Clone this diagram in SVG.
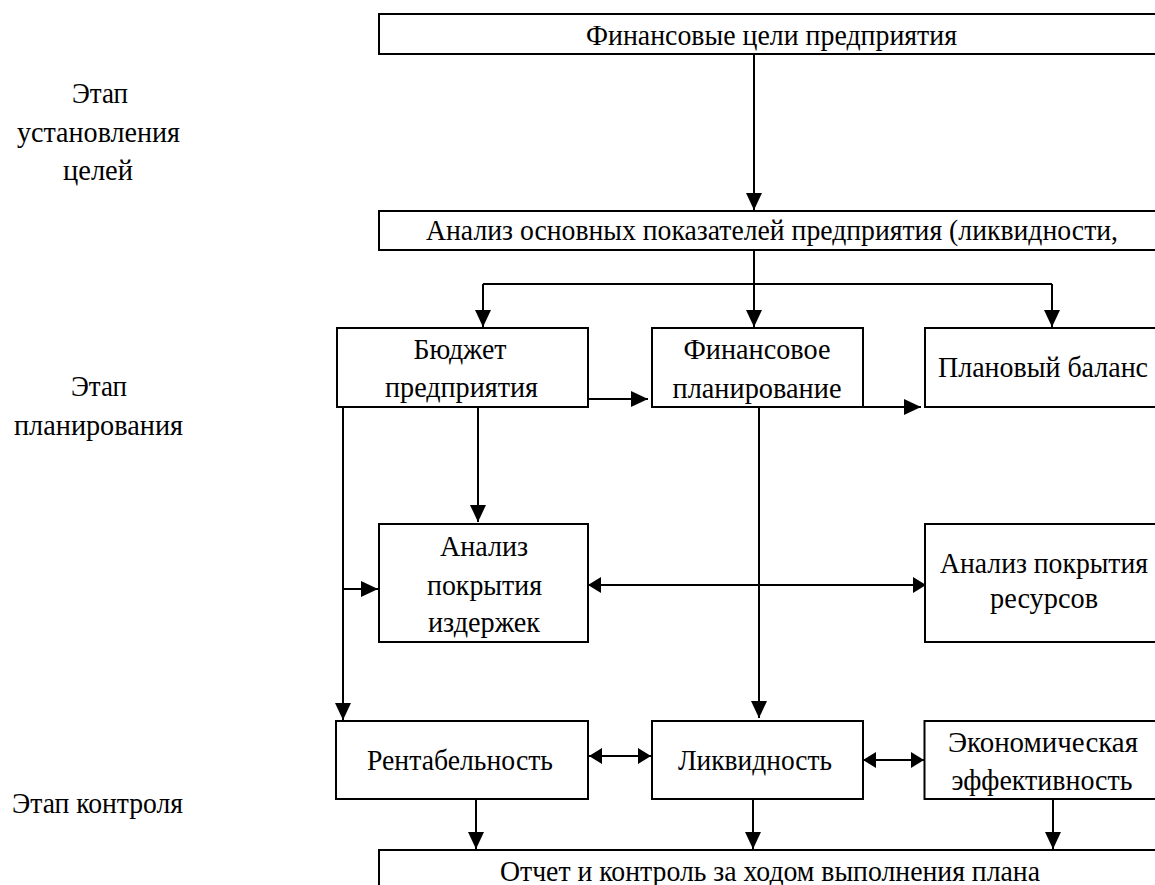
<svg xmlns="http://www.w3.org/2000/svg" width="1155" height="885" viewBox="0 0 1155 885">
<style>
.box{fill:#fff;stroke:#000;stroke-width:2}
.ln{fill:none;stroke:#000;stroke-width:2}
.t{font-family:'Liberation Serif','Times New Roman',serif;font-size:29px;fill:#000;text-anchor:middle}
</style>
<defs>
<marker id="ah" markerUnits="userSpaceOnUse" markerWidth="18" markerHeight="16" refX="17" refY="8" orient="auto-start-reverse" viewBox="0 0 18 16">
<path d="M0,0 L17,8 L0,16 z" fill="#000"/>
</marker>
<marker id="ah2" markerUnits="userSpaceOnUse" markerWidth="14" markerHeight="16" refX="13" refY="8" orient="auto-start-reverse" viewBox="0 0 14 16">
<path d="M0,0 L13,8 L0,16 z" fill="#000"/>
</marker>
</defs>
<rect width="1155" height="885" fill="#fff"/>

<g id="labels">
<text class="t" x="100" y="103" textLength="56" lengthAdjust="spacingAndGlyphs">Этап</text>
<text class="t" x="98.5" y="142" textLength="163" lengthAdjust="spacingAndGlyphs">установления</text>
<text class="t" x="98" y="180" textLength="70" lengthAdjust="spacingAndGlyphs">целей</text>
<text class="t" x="99" y="396" textLength="56" lengthAdjust="spacingAndGlyphs">Этап</text>
<text class="t" x="98.5" y="435" textLength="169" lengthAdjust="spacingAndGlyphs">планирования</text>
<text class="t" x="97.5" y="813" textLength="171" lengthAdjust="spacingAndGlyphs">Этап контроля</text>
</g>

<g id="connectors">
<path class="ln" d="M754,54 V210" marker-end="url(#ah)"/>
<path class="ln" d="M754,250 V327" marker-end="url(#ah)"/>
<path class="ln" d="M483,284 H1052"/>
<path class="ln" d="M483,284 V327" marker-end="url(#ah)"/>
<path class="ln" d="M1052,284 V327" marker-end="url(#ah)"/>
<path class="ln" d="M589,399 H648" marker-end="url(#ah)"/>
<path class="ln" d="M862,407 H921" marker-end="url(#ah)"/>
<path class="ln" d="M343,407 V720" marker-end="url(#ah)"/>
<path class="ln" d="M343,589 H378" marker-end="url(#ah)"/>
<path class="ln" d="M478,407 V522" marker-end="url(#ah)"/>
<path class="ln" d="M588,585 H926" marker-start="url(#ah2)" marker-end="url(#ah2)"/>
<path class="ln" d="M759,407 V718" marker-end="url(#ah)"/>
<path class="ln" d="M589,756 H651" marker-start="url(#ah2)" marker-end="url(#ah2)"/>
<path class="ln" d="M863,760 H924" marker-start="url(#ah2)" marker-end="url(#ah2)"/>
<path class="ln" d="M476,799 V849" marker-end="url(#ah)"/>
<path class="ln" d="M753,799 V849" marker-end="url(#ah)"/>
<path class="ln" d="M1053,799 V849" marker-end="url(#ah)"/>
</g>

<g id="goals">
<rect class="box" x="379" y="14" width="790" height="40"/>
<text class="t" x="771.5" y="45" textLength="371" lengthAdjust="spacingAndGlyphs">Финансовые цели предприятия</text>
</g>
<g id="analysis">
<rect class="box" x="379" y="211" width="790" height="39"/>
<text class="t" x="772" y="240" textLength="692" lengthAdjust="spacingAndGlyphs">Анализ основных показателей предприятия (ликвидности,</text>
</g>
<g id="budget">
<rect class="box" x="337" y="328" width="251" height="79"/>
<text class="t" x="460" y="359" textLength="93" lengthAdjust="spacingAndGlyphs">Бюджет</text>
<text class="t" x="461.5" y="397" textLength="153" lengthAdjust="spacingAndGlyphs">предприятия</text>
</g>
<g id="finplan">
<rect class="box" x="652" y="328" width="211" height="79"/>
<text class="t" x="757" y="359" textLength="147" lengthAdjust="spacingAndGlyphs">Финансовое</text>
<text class="t" x="757" y="398" textLength="169" lengthAdjust="spacingAndGlyphs">планирование</text>
</g>
<g id="balance">
<rect class="box" x="925" y="328" width="244" height="79"/>
<text class="t" x="1043" y="377" textLength="210" lengthAdjust="spacingAndGlyphs">Плановый баланс</text>
</g>
<g id="costs">
<rect class="box" x="379" y="524" width="209" height="118"/>
<text class="t" x="484" y="556" textLength="88" lengthAdjust="spacingAndGlyphs">Анализ</text>
<text class="t" x="484.5" y="595" textLength="115" lengthAdjust="spacingAndGlyphs">покрытия</text>
<text class="t" x="484" y="632" textLength="112" lengthAdjust="spacingAndGlyphs">издержек</text>
</g>
<g id="resources">
<rect class="box" x="925" y="524" width="244" height="118"/>
<text class="t" x="1044" y="573" textLength="208" lengthAdjust="spacingAndGlyphs">Анализ покрытия</text>
<text class="t" x="1044" y="608" textLength="108" lengthAdjust="spacingAndGlyphs">ресурсов</text>
</g>
<g id="profit">
<rect class="box" x="336" y="721" width="252" height="78"/>
<text class="t" x="460" y="770" textLength="186" lengthAdjust="spacingAndGlyphs">Рентабельность</text>
</g>
<g id="liquidity">
<rect class="box" x="652" y="721" width="211" height="78"/>
<text class="t" x="755" y="770" textLength="154" lengthAdjust="spacingAndGlyphs">Ликвидность</text>
</g>
<g id="efficiency">
<rect class="box" x="924.5" y="721" width="244" height="78"/>
<text class="t" x="1043" y="752" textLength="190" lengthAdjust="spacingAndGlyphs">Экономическая</text>
<text class="t" x="1042" y="790" textLength="181" lengthAdjust="spacingAndGlyphs">эффективность</text>
</g>
<g id="report">
<rect class="box" x="379" y="850" width="790" height="60"/>
<text class="t" x="770" y="881" textLength="540" lengthAdjust="spacingAndGlyphs">Отчет и контроль за ходом выполнения плана</text>
</g>
</svg>
